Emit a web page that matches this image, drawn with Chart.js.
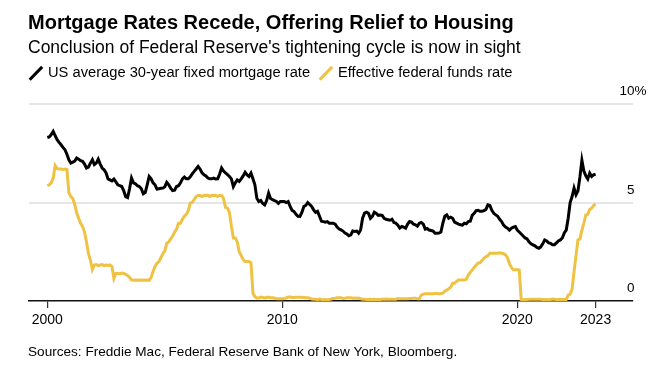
<!DOCTYPE html>
<html>
<head>
<meta charset="utf-8">
<script src="https://cdn.jsdelivr.net/npm/chart.js@4.4.0/dist/chart.umd.min.js"></script>
<style>
  html, body { margin: 0; padding: 0; background: #fff; }
  body { width: 661px; height: 370px; position: relative; overflow: hidden; font-family: 'Liberation Sans', Arial, sans-serif; color: #000; }
  .txt { position: absolute; line-height: 1; white-space: nowrap; }
  #title { left: 28px; top: 12.4px; font-size: 20px; font-weight: bold; }
  #subtitle { left: 28px; top: 38.5px; font-size: 17.5px; }
  .leg { top: 64.9px; font-size: 14.7px; }
  #source { left: 28px; top: 344.5px; font-size: 13.6px; }
  .key { position: absolute; width: 17.5px; height: 3px; transform: rotate(-46deg); }
  #wrap { position: absolute; left: 0; top: 0; width: 661px; height: 370px; }
</style>
</head>
<body>
<div id="wrap"><canvas id="myChart" width="661" height="370"></canvas></div>
<div class="txt" id="title">Mortgage Rates Recede, Offering Relief to Housing</div>
<div class="txt" id="subtitle">Conclusion of Federal Reserve's tightening cycle is now in sight</div>
<div class="key" style="left:26.5px; top:71.5px; background:#000;"></div>
<div class="txt leg" style="left:48px;">US average 30-year fixed mortgage rate</div>
<div class="key" style="left:317px; top:71.5px; background:#efc243;"></div>
<div class="txt leg" style="left:338px;">Effective federal funds rate</div>
<div class="txt" id="source">Sources: Freddie Mac, Federal Reserve Bank of New York, Bloomberg.</div>
<script>
// monthly values, Jan 2000 .. May 2023
const startYear = 2000;

const mortgageRate = [
  8.30, 8.33, 8.45, 8.61, 8.40, 8.19, 8.05, 7.93, 7.80, 7.68, 7.45, 7.17,
  7.00, 7.05, 7.10, 7.26, 7.20, 7.12, 7.09, 6.95, 6.75, 6.80, 7.00, 7.17,
  6.92, 7.00, 7.20, 6.95, 6.75, 6.66, 6.50, 6.20, 6.15, 6.10, 6.19, 6.05,
  5.90, 5.85, 5.81, 5.60, 5.30, 5.25, 5.70, 6.24, 6.00, 5.95, 5.85, 5.81,
  5.70, 5.44, 5.50, 5.90, 6.32, 6.20, 6.00, 5.90, 5.68, 5.70, 5.72, 5.73,
  5.80, 6.02, 5.90, 5.73, 5.60, 5.62, 5.81, 5.85, 6.00, 6.20, 6.29, 6.20,
  6.20, 6.30, 6.45, 6.58, 6.70, 6.83, 6.70, 6.50, 6.41, 6.35, 6.24, 6.20,
  6.20, 6.24, 6.19, 6.20, 6.45, 6.75, 6.60, 6.50, 6.41, 6.32, 6.20, 5.81,
  6.00, 6.15, 6.07, 6.20, 6.35, 6.53, 6.40, 6.32, 6.49, 6.20, 5.90, 5.22,
  5.05, 5.10, 4.95, 4.88, 5.10, 5.48, 5.20, 5.14, 5.10, 5.05, 4.95, 5.05,
  5.05, 5.05, 5.00, 5.05, 4.80, 4.60, 4.54, 4.40, 4.30, 4.29, 4.50, 4.80,
  4.85, 5.00, 4.90, 4.80, 4.63, 4.50, 4.55, 4.30, 4.05, 4.03, 4.00, 4.03,
  3.95, 3.95, 3.95, 3.90, 3.75, 3.65, 3.61, 3.55, 3.45, 3.40, 3.31, 3.36,
  3.55, 3.53, 3.55, 3.44, 3.60, 4.20, 4.46, 4.51, 4.45, 4.20, 4.30, 4.51,
  4.45, 4.35, 4.37, 4.35, 4.20, 4.15, 4.12, 4.10, 4.15, 3.98, 3.95, 3.85,
  3.70, 3.78, 3.75, 3.70, 3.90, 4.03, 4.00, 3.90, 3.87, 3.80, 3.95, 3.99,
  3.90, 3.65, 3.68, 3.60, 3.58, 3.55, 3.44, 3.44, 3.45, 3.50, 3.95, 4.30,
  4.37, 4.20, 4.25, 4.20, 4.00, 3.95, 3.90, 3.87, 3.85, 3.95, 3.92, 4.03,
  4.05, 4.35, 4.45, 4.59, 4.60, 4.55, 4.55, 4.59, 4.65, 4.88, 4.85, 4.60,
  4.45, 4.37, 4.30, 4.15, 4.03, 3.85, 3.75, 3.70, 3.60, 3.70, 3.75, 3.78,
  3.60, 3.50, 3.40, 3.30, 3.20, 3.15, 3.00, 2.90, 2.85, 2.80, 2.72, 2.68,
  2.75, 2.90, 3.10, 3.05, 2.95, 2.93, 2.85, 2.85, 2.95, 3.05, 3.10, 3.20,
  3.45, 3.60, 4.20, 5.00, 5.30, 5.73, 5.40, 5.60, 6.30, 7.14, 6.60, 6.35,
  6.19, 6.49, 6.32, 6.40, 6.44
];

const fedFundsRate = [
  5.85, 5.90, 6.00, 6.24, 6.87, 6.72, 6.70, 6.70, 6.68, 6.70, 6.68, 5.50,
  5.30, 5.20, 4.90, 4.46, 4.20, 3.95, 3.78, 3.50, 3.00, 2.40, 2.08, 1.60,
  1.83, 1.85, 1.80, 1.83, 1.85, 1.80, 1.83, 1.80, 1.83, 1.75, 1.15, 1.40,
  1.40, 1.38, 1.42, 1.40, 1.35, 1.30, 1.20, 1.07, 1.05, 1.07, 1.05, 1.07,
  1.05, 1.07, 1.05, 1.07, 1.05, 1.20, 1.50, 1.75, 1.92, 2.00, 2.20, 2.40,
  2.55, 2.93, 3.00, 3.15, 3.30, 3.50, 3.65, 3.95, 3.95, 4.15, 4.30, 4.40,
  4.60, 4.97, 5.00, 5.15, 5.30, 5.36, 5.36, 5.30, 5.36, 5.35, 5.36, 5.30,
  5.36, 5.35, 5.36, 5.30, 5.36, 5.36, 5.20, 4.75, 4.71, 4.50, 3.80, 3.20,
  3.20, 3.00, 2.50, 2.30, 2.10, 2.00, 2.00, 2.00, 1.95, 0.40, 0.22, 0.15,
  0.15, 0.20, 0.18, 0.15, 0.18, 0.20, 0.16, 0.16, 0.15, 0.12, 0.12, 0.12,
  0.11, 0.13, 0.16, 0.20, 0.20, 0.18, 0.18, 0.19, 0.19, 0.19, 0.19, 0.18,
  0.17, 0.16, 0.14, 0.10, 0.09, 0.09, 0.07, 0.10, 0.08, 0.07, 0.08, 0.07,
  0.08, 0.10, 0.13, 0.14, 0.16, 0.16, 0.16, 0.13, 0.14, 0.16, 0.16, 0.16,
  0.14, 0.15, 0.14, 0.15, 0.11, 0.09, 0.09, 0.08, 0.08, 0.09, 0.08, 0.09,
  0.07, 0.07, 0.08, 0.09, 0.09, 0.10, 0.09, 0.09, 0.09, 0.09, 0.09, 0.12,
  0.11, 0.11, 0.11, 0.12, 0.12, 0.13, 0.13, 0.14, 0.14, 0.12, 0.12, 0.30,
  0.35, 0.37, 0.37, 0.37, 0.37, 0.37, 0.38, 0.38, 0.37, 0.38, 0.40, 0.50,
  0.56, 0.62, 0.70, 0.90, 0.90, 1.00, 1.07, 1.07, 1.07, 1.07, 1.10, 1.32,
  1.45, 1.58, 1.70, 1.83, 1.92, 1.95, 2.05, 2.17, 2.25, 2.30, 2.43, 2.43,
  2.43, 2.43, 2.43, 2.45, 2.43, 2.40, 2.34, 2.20, 1.90, 1.70, 1.58, 1.58,
  1.60, 1.58, 0.08, 0.06, 0.06, 0.08, 0.09, 0.09, 0.09, 0.09, 0.09, 0.09,
  0.09, 0.08, 0.07, 0.07, 0.06, 0.08, 0.10, 0.09, 0.08, 0.08, 0.08, 0.08,
  0.08, 0.08, 0.30, 0.35, 0.60, 1.50, 2.30, 3.10, 3.15, 3.60, 3.95, 4.37,
  4.40, 4.65, 4.71, 4.85, 4.92
];

const xTicks = [2000, 2010, 2020, 2023.333];
const xTickLabels = ['2000', '2010', '2020', '2023'];
const yTicks = [0, 5, 10];
const yTickLabels = ['0', '5', '10%'];

const toPoints = arr => arr.map((v, i) => ({ x: startYear + i / 12, y: v }));

Chart.defaults.font.family = "'Liberation Sans', Arial, sans-serif";

// y labels sit above their gridlines, "%" hangs past the plot edge
const yLabels = {
  id: 'yLabels',
  afterDraw(chart) {
    const ctx = chart.ctx;
    const y = chart.scales.y;
    const right = chart.chartArea.right;
    ctx.save();
    ctx.font = "13.5px 'Liberation Sans', Arial, sans-serif";
    ctx.fillStyle = '#000';
    ctx.textBaseline = 'alphabetic';
    yTicks.forEach((v, i) => {
      const lab = yTickLabels[i];
      const py = y.getPixelForValue(v) - 9;
      ctx.textAlign = 'right';
      ctx.fillText(lab.replace('%', ''), right + 1.5, py);
      if (lab.endsWith('%')) {
        ctx.textAlign = 'left';
        ctx.fillText('%', right + 1.5, py);
      }
    });
    ctx.restore();
  }
};

new Chart(document.getElementById('myChart'), {
  type: 'line',
  data: {
    datasets: [
      {
        label: 'US average 30-year fixed mortgage rate',
        data: toPoints(mortgageRate),
        borderColor: '#000',
        borderWidth: 3,
        pointRadius: 0,
        tension: 0
      },
      {
        label: 'Effective federal funds rate',
        data: toPoints(fedFundsRate),
        borderColor: '#efc243',
        borderWidth: 3,
        pointRadius: 0,
        tension: 0
      }
    ]
  },
  options: {
    responsive: false,
    animation: false,
    layout: { padding: { left: 29, right: 28, top: 104, bottom: 29 } },
    plugins: { legend: { display: false }, tooltip: { enabled: false } },
    scales: {
      x: {
        type: 'linear',
        min: 1999.22,
        max: 2024.925,
        afterBuildTicks: s => { s.ticks = xTicks.map(v => ({ value: v })); },
        afterFit: s => { s.height = 40; },
        ticks: {
          autoSkip: false,
          maxRotation: 0,
          padding: 4,
          color: '#000',
          font: { size: 14 },
          callback: (v, i) => xTickLabels[i]
        },
        grid: { drawOnChartArea: false, drawTicks: true, tickLength: 7, color: '#333', lineWidth: 1.2 },
        border: { color: '#111', width: 1.5 }
      },
      y: {
        position: 'right',
        min: 0,
        max: 10,
        afterBuildTicks: s => { s.ticks = yTicks.map(v => ({ value: v })); },
        afterFit: s => { s.width = 0; },
        ticks: { display: false },
        grid: {
          drawTicks: false,
          lineWidth: 2,
          color: c => (c.tick && c.tick.value === 0 ? 'rgba(0,0,0,0)' : '#e6e6e6')
        },
        border: { display: false }
      }
    }
  },
  plugins: [yLabels]
});
</script>
</body>
</html>
